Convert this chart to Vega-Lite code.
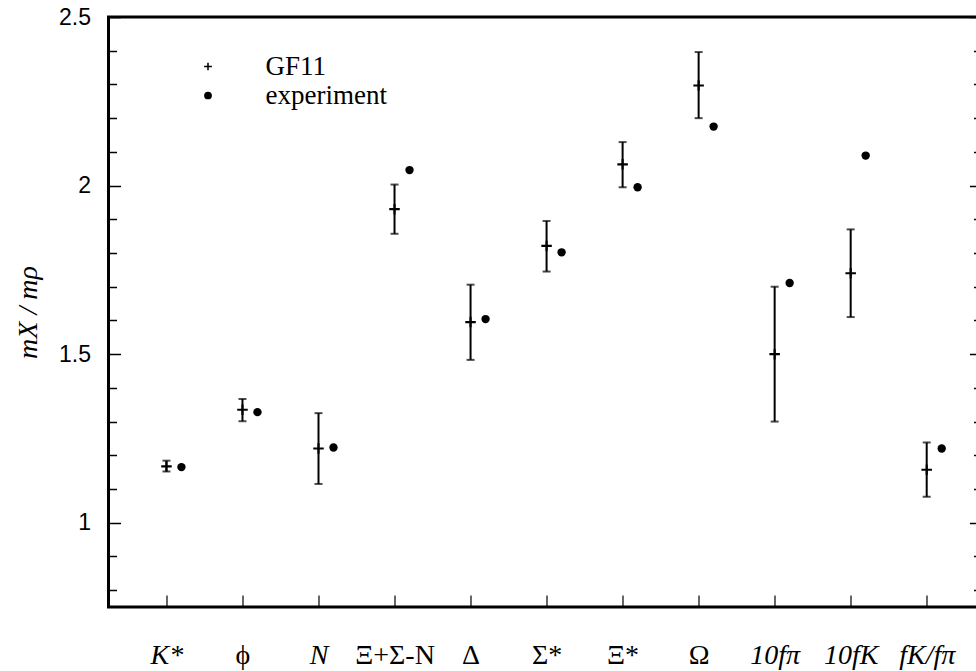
{
  "$schema": "https://vega.github.io/schema/vega-lite/v6.json",
  "autosize": "none",
  "padding": {"left": 108.5, "top": 17, "right": 0, "bottom": 64},
  "width": 873,
  "height": 590,
  "background": "white",
  "config": {
    "view": {"stroke": "black", "strokeWidth": 3},
    "axis": {"domain": false, "grid": false, "labelColor": "black", "tickColor": "black", "titleColor": "black"},
    "legend": {"padding": 0}
  },
  "data": {
    "values": [
      {"name": "K*", "gf": 1.167, "lo": 1.152, "hi": 1.184, "exp": 1.165},
      {"name": "ϕ", "gf": 1.335, "lo": 1.301, "hi": 1.367, "exp": 1.328},
      {"name": "N", "gf": 1.220, "lo": 1.115, "hi": 1.325, "exp": 1.223},
      {"name": "Ξ+Σ-N", "gf": 1.930, "lo": 1.857, "hi": 2.003, "exp": 2.046},
      {"name": "Δ", "gf": 1.595, "lo": 1.483, "hi": 1.706, "exp": 1.604},
      {"name": "Σ*", "gf": 1.821, "lo": 1.745, "hi": 1.895, "exp": 1.802},
      {"name": "Ξ*", "gf": 2.063, "lo": 1.995, "hi": 2.129, "exp": 1.995},
      {"name": "Ω", "gf": 2.297, "lo": 2.200, "hi": 2.396, "exp": 2.175},
      {"name": "10fπ", "gf": 1.500, "lo": 1.300, "hi": 1.700, "exp": 1.711},
      {"name": "10fK", "gf": 1.740, "lo": 1.610, "hi": 1.870, "exp": 2.089},
      {"name": "fK/fπ", "gf": 1.157, "lo": 1.077, "hi": 1.238, "exp": 1.220}
    ]
  },
  "encoding": {
    "x": {
      "field": "name", "type": "nominal", "sort": null,
      "scale": {"type": "point", "padding": 0.7415, "align": 0.514},
      "axis": {
        "title": null, "orient": "bottom", "labelAngle": 0,
        "tickSize": -12, "tickWidth": 1.2, "labelPadding": 46,
        "labelFont": "Liberation Serif", "labelFontSize": 28,
        "labelFontStyle": {"condition": {"test": "indexof(['K*','N','10fπ','10fK','fK/fπ'], datum.label) >= 0", "value": "italic"}, "value": "normal"}
      }
    }
  },
  "layer": [
    {
      "mark": {"type": "rule", "color": "black", "strokeWidth": 2},
      "encoding": {
        "y": {
          "field": "lo", "type": "quantitative",
          "scale": {"domain": [0.75, 2.5], "nice": false, "zero": false},
          "axis": {
            "orient": "left", "values": [1, 1.5, 2, 2.5], "format": "~g", "tickSize": -12, "tickWidth": 1.5,
            "labelPadding": 30, "labelFont": "Liberation Sans", "labelFontSize": 23,
            "labelBaseline": "middle",
            "title": "mX / mρ", "titleFont": "Liberation Serif", "titleFontStyle": "italic",
            "titleFontWeight": "normal", "titleFontSize": 28, "titleX": -80, "titleY": 295,
            "titleBaseline": "middle", "titleAlign": "center", "titleAngle": -90
          }
        },
        "y2": {"field": "hi"}
      }
    },
    {
      "mark": {"type": "tick", "color": "black", "size": 8, "thickness": 2, "orient": "horizontal"},
      "encoding": {
        "y": {
          "field": "lo", "type": "quantitative",
          "axis": {
            "orient": "left", "values": [0.8, 0.9, 1.1, 1.2, 1.3, 1.4, 1.6, 1.7, 1.8, 1.9, 2.1, 2.2, 2.3, 2.4],
            "tickSize": -8, "tickWidth": 1.5, "labels": false, "title": null
          }
        }
      }
    },
    {
      "mark": {"type": "tick", "color": "black", "size": 8, "thickness": 2, "orient": "horizontal"},
      "encoding": {
        "y": {
          "field": "hi", "type": "quantitative",
          "axis": {
            "orient": "right", "values": [1, 1.5, 2, 2.5], "tickSize": -12, "tickWidth": 1.5,
            "labels": false, "title": null
          }
        }
      }
    },
    {
      "mark": {"type": "point", "filled": true, "color": "black", "size": 110, "opacity": 1},
      "encoding": {
        "y": {
          "field": "gf", "type": "quantitative",
          "axis": {
            "orient": "right", "values": [0.8, 0.9, 1.1, 1.2, 1.3, 1.4, 1.6, 1.7, 1.8, 1.9, 2.1, 2.2, 2.3, 2.4],
            "tickSize": -8, "tickWidth": 1.5, "labels": false, "title": null
          }
        },
        "shape": {
          "datum": "GF11", "type": "nominal",
          "scale": {"domain": ["GF11", "experiment"], "range": ["M-1,-0.2H-0.2V-1H0.2V-0.2H1V0.2H0.2V1H-0.2V0.2H-1Z", "circle"]},
          "legend": {
            "title": null, "orient": "none", "legendX": 86, "legendY": 36,
            "labelFont": "Liberation Serif", "labelFontSize": 27, "labelColor": "black",
            "labelOffset": 44, "rowPadding": 1, "symbolSize": 60,
            "symbolFillColor": "black"
          }
        }
      }
    },
    {
      "mark": {"type": "point", "filled": true, "color": "black", "size": 70, "xOffset": 15, "opacity": 1},
      "encoding": {
        "y": {"field": "exp", "type": "quantitative", "axis": null},
        "shape": {"datum": "experiment", "type": "nominal"}
      }
    }
  ],
  "resolve": {"axis": {"y": "independent"}}
}
